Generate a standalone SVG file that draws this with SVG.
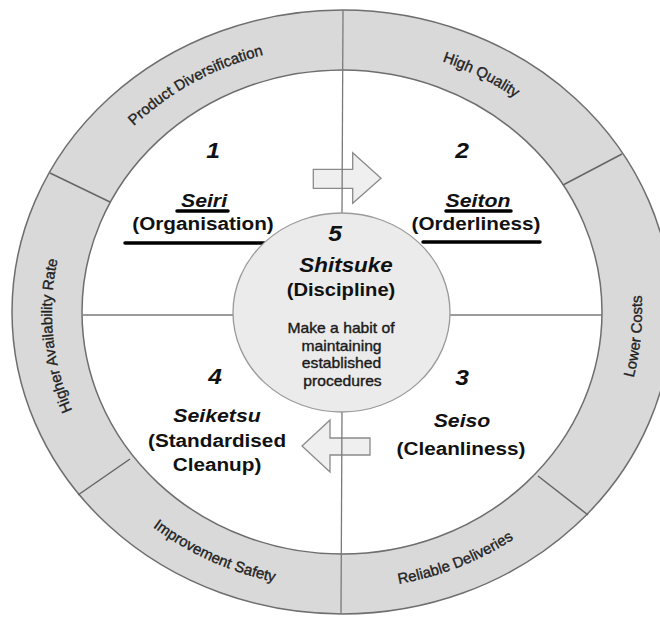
<svg xmlns="http://www.w3.org/2000/svg" width="660" height="617" viewBox="0 0 660 617">
  <style>
    .ring { fill: #d9d9d9; stroke: #6e6e6e; stroke-width: 1.5; }
    .field { fill: #ffffff; stroke: #6e6e6e; stroke-width: 1.5; }
    .div { stroke: #666666; stroke-width: 1.5; fill: none; }
    .quad { stroke: #7a7a7a; stroke-width: 1.3; fill: none; }
    .hub { fill: #ebebeb; stroke: #9a9a9a; stroke-width: 1.3; }
    .arrow { fill: #efefef; stroke: #8a8a8a; stroke-width: 1.3; stroke-linejoin: miter; }
    .rl { font-family: "Liberation Sans", Arial, sans-serif; font-size: 15px; fill: #222; stroke: #222; stroke-width: 0.35; }
    .num { font-family: "Liberation Sans", Arial, sans-serif; font-weight: bold; font-style: italic; font-size: 22px; text-anchor: middle; fill: #111; }
    .jp { font-family: "Liberation Sans", Arial, sans-serif; font-weight: bold; font-style: italic; font-size: 19px; text-anchor: middle; fill: #111; }
    .en { font-family: "Liberation Sans", Arial, sans-serif; font-weight: bold; font-size: 18.5px; text-anchor: middle; fill: #111; }
    .note { font-family: "Liberation Sans", Arial, sans-serif; font-size: 14px; text-anchor: middle; fill: #1a1a1a; stroke: #1a1a1a; stroke-width: 0.35; }
    .ul { stroke: #000; stroke-width: 3.5; stroke-linecap: round; }
  </style>
  <defs>
    <!-- baselines for the ring captions (outward-facing run clockwise, inward-facing run counter-clockwise) -->
    <path id="arc-pd" d="M67.0,227.3 A290,267 0 0,1 384.9,47.9"/>
    <path id="arc-hq" d="M287.7,49.7 A290,267 0 0,1 613.1,217.2"/>
    <path id="arc-lc" d="M554.1,507.9 A300,277 0 0,0 587.8,153.1"/>
    <path id="arc-rd" d="M256.8,577.6 A300,277 0 0,0 610.5,435.6"/>
    <path id="arc-is" d="M66.5,421.6 A300,277 0 0,0 411.0,581.6"/>
    <path id="arc-ha" d="M136.9,500.8 A290,267 0 0,1 104.4,158.9"/>
  </defs>

  <rect width="660" height="617" fill="#ffffff"/>

  <!-- outer benefit ring -->
  <g id="ring">
    <ellipse class="ring" cx="342" cy="312" rx="330" ry="302"/>
    <ellipse class="field" cx="342" cy="312" rx="260" ry="242"/>
    <line class="div" x1="50" y1="173" x2="110" y2="202"/>
    <line class="div" x1="622" y1="154" x2="563" y2="185"/>
    <line class="div" x1="538" y1="476" x2="588" y2="515"/>
    <line class="div" x1="130" y1="459" x2="78" y2="495"/>
  </g>

  <g id="ring-labels">
    <text class="rl"><textPath href="#arc-pd" startOffset="50%" text-anchor="middle">Product Diversification</textPath></text>
    <text class="rl"><textPath href="#arc-hq" startOffset="50%" text-anchor="middle">High Quality</textPath></text>
    <text class="rl"><textPath href="#arc-lc" startOffset="50%" text-anchor="middle">Lower Costs</textPath></text>
    <text class="rl"><textPath href="#arc-rd" startOffset="50%" text-anchor="middle">Reliable Deliveries</textPath></text>
    <text class="rl"><textPath href="#arc-is" startOffset="50%" text-anchor="middle">Improvement Safety</textPath></text>
    <text class="rl"><textPath href="#arc-ha" startOffset="50%" text-anchor="middle">Higher Availability Rate</textPath></text>
  </g>

  <!-- cycle arrows and quadrant dividers -->
  <g id="connectors">
    <path class="arrow" d="M313.3,169.3 H352.7 V152.7 L381,178.3 L352.7,203.3 V188.3 H313.3 Z"/>
    <path class="arrow" d="M370,438 H330 V420 L302,446 L330,472 V455 H370 Z"/>
    <line class="quad" x1="343" y1="10" x2="342" y2="213"/>
    <line class="quad" x1="342" y1="412" x2="341" y2="614"/>
    <line class="quad" x1="83" y1="315" x2="233" y2="315"/>
    <line class="quad" x1="450" y1="315" x2="602" y2="315"/>
  </g>

  <g id="step-1">
    <text class="num" transform="translate(213 158) scale(1.12 1)">1</text>
    <text class="jp" transform="translate(204 207) scale(1.12 1)">Seiri</text>
    <line class="ul" x1="177" y1="211" x2="228" y2="211"/>
    <text class="en" transform="translate(203 230) scale(1.12 1)">(Organisation)</text>
    <line class="ul" x1="125" y1="243" x2="265" y2="243"/>
  </g>

  <g id="step-2">
    <text class="num" transform="translate(462 158) scale(1.12 1)">2</text>
    <text class="jp" transform="translate(478 207) scale(1.12 1)">Seiton</text>
    <line class="ul" x1="446" y1="211" x2="511" y2="211"/>
    <text class="en" transform="translate(476 230) scale(1.12 1)">(Orderliness)</text>
    <line class="ul" x1="423" y1="242" x2="540" y2="242"/>
  </g>

  <g id="step-3">
    <text class="num" transform="translate(462 385) scale(1.12 1)">3</text>
    <text class="jp" transform="translate(462 427) scale(1.12 1)">Seiso</text>
    <text class="en" transform="translate(461 455) scale(1.12 1)">(Cleanliness)</text>
  </g>

  <g id="step-4">
    <text class="num" transform="translate(215 384) scale(1.12 1)">4</text>
    <text class="jp" transform="translate(217 422) scale(1.12 1)">Seiketsu</text>
    <text class="en" transform="translate(217 447) scale(1.12 1)">(Standardised</text>
    <text class="en" transform="translate(217 471) scale(1.12 1)">Cleanup)</text>
  </g>

  <g id="step-5">
    <ellipse class="hub" cx="341.5" cy="312.5" rx="108.5" ry="99.5"/>
    <text class="num" transform="translate(335 241) scale(1.12 1)">5</text>
    <text class="jp" style="font-size:20px" transform="translate(346 272) scale(1.12 1)">Shitsuke</text>
    <text class="en" style="font-size:18px" transform="translate(341 296) scale(1.12 1)">(Discipline)</text>
    <text class="note" transform="translate(341 333) scale(1.12 1)">Make a habit of</text>
    <text class="note" transform="translate(341.5 350.5) scale(1.12 1)">maintaining</text>
    <text class="note" transform="translate(341.5 368) scale(1.12 1)">established</text>
    <text class="note" transform="translate(342.5 385.5) scale(1.12 1)">procedures</text>
  </g>
</svg>
